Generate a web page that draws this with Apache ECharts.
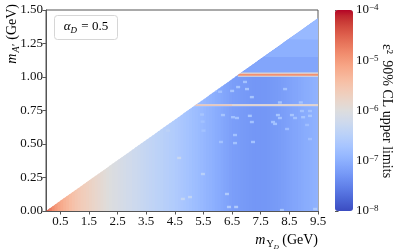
<!DOCTYPE html>
<html><head><meta charset="utf-8">
<script src="https://cdn.jsdelivr.net/npm/echarts@6/dist/echarts.min.js"></script>
<style>html,body{margin:0;padding:0;background:#fff}#c{width:399px;height:250px}</style>
</head><body><div id="c"></div>
<script>
// ---------------- data ----------------
const xTickValues = [0.5, 1.5, 2.5, 3.5, 4.5, 5.5, 6.5, 7.5, 8.5, 9.5];
const yTickValues = [0, 0.25, 0.5, 0.75, 1.0, 1.25, 1.5];
const colorbarExponents = [-8, -7, -6, -5, -4];
const boundarySlope = 0.1514;        // kinematic edge: max m_A' per GeV of m_Upsilon
const colWidth = 0.1;                // GeV per column bin
// log10(eps^2 upper limit) per m_Upsilon column (bins of 0.1 GeV starting at 0)
const colLogLimit = [
  -4.50,-4.72,-4.88,-5.00,-5.10,-5.18,-5.26,-5.33,-5.40,-5.46,
  -5.52,-5.57,-5.62,-5.66,-5.70,-5.74,-5.78,-5.82,-5.86,-5.90,
  -5.94,-5.98,-6.01,-6.04,-6.07,-6.10,-6.12,-6.15,-6.18,-6.20,
  -6.23,-6.25,-6.28,-6.31,-6.34,-6.36,-6.39,-6.41,-6.44,-6.46,
  -6.48,-6.51,-6.53,-6.56,-6.58,-6.61,-6.64,-6.67,-6.70,-6.73,
  -6.76,-6.79,-6.82,-6.85,-6.88,-6.91,-6.94,-6.97,-7.00,-7.03,
  -7.06,-7.09,-7.12,-7.15,-7.18,-7.20,-7.22,-7.23,-7.24,-7.25,
  -7.26,-7.27,-7.28,-7.28,-7.28,-7.28,-7.28,-7.27,-7.26,-7.25,
  -7.24,-7.23,-7.21,-7.19,-7.17,-7.15,-7.13,-7.11,-7.09,-7.07,
  -7.05,-7.03,-7.01,-6.99,-6.97
];
// [mUps0, mUps1, mA0, mA1, log10 limit]
const upperBands = [
  [6.8, 9.5, 1.035, 1.15, -7.12],
  [6.8, 9.5, 1.15, 1.28, -7.00],
  [6.8, 9.5, 1.28, 1.50, -6.88]
];
const lineHalos = [
  [6.7, 9.5, 1.002, 1.034, -6.0],
  [5.1, 9.5, 0.781, 0.799, -6.35]
];
const lineCores = [
  [6.7, 9.5, 1.010, 1.025, -4.90],
  [5.1, 6.5, 0.786, 0.794, -5.45],
  [6.5, 9.5, 0.786, 0.794, -5.70]
];
// [mUps, mA, log10 limit]
const speckles = [
  [4.26,0.600,-6.45],[5.45,0.720,-6.70],[5.47,0.667,-6.75],[5.50,0.600,-6.75],
  [6.18,0.716,-6.70],[6.11,0.515,-6.75],[4.65,0.396,-6.30],[5.48,0.276,-6.50],
  [4.78,0.090,-6.35],[5.03,0.104,-6.40],[6.32,0.127,-6.60],[6.39,0.030,-6.60],
  [6.64,0.030,-6.60],[8.24,0.007,-6.70],[9.40,0.015,-6.60],[6.08,0.890,-6.75],
  [5.90,0.900,-6.70],[6.50,0.896,-6.70],[6.71,0.925,-6.70],[6.95,0.963,-6.75],
  [7.02,0.910,-6.70],[7.19,0.850,-6.70],[8.35,0.910,-6.75],[8.17,0.810,-6.70],
  [8.90,0.810,-6.70],[6.53,0.700,-6.75],[7.12,0.710,-6.70],[8.10,0.716,-6.70],
  [8.17,0.694,-6.75],[8.59,0.716,-6.70],[8.70,0.694,-6.75],[8.98,0.700,-6.70],
  [9.22,0.710,-6.70],[8.94,0.746,-6.75],[9.22,0.746,-6.75],[7.93,0.664,-6.75],
  [8.00,0.650,-6.75],[7.19,0.664,-6.75],[6.67,0.694,-6.75],[6.60,0.567,-6.75],
  [6.60,0.507,-6.75],[7.23,0.515,-6.75],[8.42,0.612,-6.80],[9.12,0.642,-6.80],
  [9.22,0.537,-6.80]
];
// coolwarm colormap stops
const coolwarm = ['#3b4cc0','#445acc','#4d68d7','#5775e1','#6282ea','#6c8ef1','#779af7','#82a5fb','#8db0fe','#98b9ff','#a3c2ff','#aec9fd','#b8d0f9','#c2d5f4','#ccd9ee','#d5dbe6','#dddddd','#e5d8d1','#ecd3c5','#f1ccb9','#f5c4ad','#f7bba0','#f7b194','#f7a687','#f49a7b','#f18d6f','#ec7f63','#e57058','#de604d','#d55042','#cb3e38','#c0282f','#b40426'];

// ---------------- build ----------------
const FONT = 'Liberation Serif';
const X_MAX = 9.5;
const colData = colLogLimit.map((v, i) => [i * colWidth, (i + 1) * colWidth, 0, 1.5, v]);
const SPW = 0.07, SPH = 0.009;
const speckleData = speckles.map(s => [s[0] - SPW, s[0] + SPW, s[1] - SPH, s[1] + SPH, s[2]]);

function clipToTriangle(poly) {
  const out = [];
  for (let i = 0; i < poly.length; i++) {
    const a = poly[i], b = poly[(i + 1) % poly.length];
    const fa = boundarySlope * a[0] - a[1], fb = boundarySlope * b[0] - b[1];
    if (fa >= 0) out.push(a);
    if ((fa >= 0) !== (fb >= 0)) {
      const t = fa / (fa - fb);
      out.push([a[0] + t * (b[0] - a[0]), a[1] + t * (b[1] - a[1])]);
    }
  }
  return out;
}
// overlap: extend each cell slightly to the right so neighbours leave no seam
function makeRender(overlap) {
  return function (params, api) {
    const x0 = api.value(0), y0 = api.value(2), y1 = api.value(3);
    const x1 = Math.min(X_MAX, api.value(1) + overlap);
    const poly = clipToTriangle([[x0, y0], [x1, y0], [x1, y1], [x0, y1]]);
    if (poly.length < 3) return null;
    const c = api.visual('color');
    return {
      type: 'polygon',
      shape: { points: poly.map(p => api.coord(p)) },
      style: { fill: c }
    };
  };
}
function cellSeries(data, overlap) {
  return {
    type: 'custom', xAxisIndex: 0, yAxisIndex: 0, silent: true,
    dimensions: ['x0', 'x1', 'y0', 'y1', 'v'],
    encode: { x: [0, 1], y: [2, 3] },
    renderItem: makeRender(overlap), data: data, clip: true
  };
}
const txt = { fontFamily: FONT, fontSize: 13, color: '#111' };
const axisLineStyle = { color: '#555', width: 1 };

const chart = echarts.init(document.getElementById('c'), null, { renderer: 'canvas' });
chart.setOption({
  animation: false,
  backgroundColor: '#fff',
  grid: [
    { left: 46, top: 10, width: 272, height: 201, show: true, borderColor: '#555', borderWidth: 1, containLabel: false, outerBoundsMode: 'none' },
    { left: 335, top: 10, width: 18, height: 201, show: false, containLabel: false, outerBoundsMode: 'none' }
  ],
  xAxis: [
    { gridIndex: 0, type: 'value', min: 0, max: 9.5,
      axisLine: { show: true, lineStyle: axisLineStyle },
      axisTick: { show: true, length: 3.5, lineStyle: axisLineStyle, customValues: xTickValues },
      axisLabel: Object.assign({ margin: 4, customValues: xTickValues, formatter: v => v.toFixed(1) }, txt),
      splitLine: { show: false } },
    { gridIndex: 1, type: 'value', min: 0, max: 1, show: false }
  ],
  yAxis: [
    { gridIndex: 0, type: 'value', min: 0, max: 1.5, interval: 0.25,
      axisLine: { show: true, lineStyle: axisLineStyle },
      axisTick: { show: true, length: 3.5, lineStyle: axisLineStyle },
      axisLabel: Object.assign({ margin: 3, formatter: v => v.toFixed(2) }, txt),
      splitLine: { show: false } },
    { gridIndex: 1, type: 'value', min: -8, max: -4, interval: 1, position: 'right',
      axisLine: { show: false },
      axisTick: { show: true, length: 3.5, lineStyle: axisLineStyle },
      axisLabel: { margin: 3, formatter: v => '{b|10}{s|\u2212' + (-v) + '}',
        rich: {
          b: { fontFamily: FONT, fontSize: 13, color: '#111', lineHeight: 13, verticalAlign: 'bottom' },
          s: { fontFamily: FONT, fontSize: 9, color: '#111', lineHeight: 9, verticalAlign: 'top', padding: [0, 0, 8, 0] }
        } },
      splitLine: { show: false } }
  ],
  visualMap: {
    type: 'continuous', min: -8, max: -4, dimension: 4, seriesIndex: [0, 1, 2, 3, 4],
    left: 335, top: 10, itemWidth: 18, itemHeight: 201, padding: 0,
    calculable: false, showLabel: false, text: null, hoverLink: false,
    inRange: { color: coolwarm }
  },
  series: [
    cellSeries(colData, 0.05),
    cellSeries(upperBands, 0),
    cellSeries(lineHalos, 0),
    cellSeries(lineCores, 0),
    cellSeries(speckleData, 0)
  ],
  graphic: [
    { type: 'rect', left: 54, top: 15, shape: { width: 63, height: 24, r: 3 },
      style: { fill: '#fff', stroke: '#d6d6d6', lineWidth: 1 } },
    { type: 'text', x: 86, y: 27,
      style: { text: '{i|\u03b1}{d|D}{r| = 0.5}', align: 'center', verticalAlign: 'middle',
        rich: {
          i: { fontFamily: FONT, fontStyle: 'italic', fontSize: 13, color: '#111', verticalAlign: 'top', lineHeight: 13 },
          d: { fontFamily: FONT, fontStyle: 'italic', fontSize: 9, color: '#111', verticalAlign: 'top', lineHeight: 9, padding: [6, 1, 0, 0] },
          r: { fontFamily: FONT, fontSize: 13, color: '#111', verticalAlign: 'top', lineHeight: 13 }
        } } },
    { type: 'text', x: 318, y: 233,
      style: { text: '{i|m}{u|\u03a5}{d|D}{r| (GeV)}', align: 'right', verticalAlign: 'top',
        rich: {
          i: { fontFamily: FONT, fontStyle: 'italic', fontSize: 14, color: '#111', verticalAlign: 'top', lineHeight: 14 },
          u: { fontFamily: FONT, fontSize: 10, color: '#111', verticalAlign: 'top', lineHeight: 10, padding: [6, 0, 0, 1] },
          d: { fontFamily: FONT, fontStyle: 'italic', fontSize: 7, color: '#111', verticalAlign: 'top', lineHeight: 7, padding: [11, 0, 0, 0] },
          r: { fontFamily: FONT, fontSize: 14, color: '#111', verticalAlign: 'top', lineHeight: 14 }
        } } },
    { type: 'text', x: 5, y: 4, rotation: Math.PI / 2,
      style: { text: '{i|m}{d|A\u2032}{r| (GeV)}', align: 'right', verticalAlign: 'top',
        rich: {
          i: { fontFamily: FONT, fontStyle: 'italic', fontSize: 14, color: '#111', verticalAlign: 'top', lineHeight: 14 },
          d: { fontFamily: FONT, fontStyle: 'italic', fontSize: 10, color: '#111', verticalAlign: 'top', lineHeight: 10, padding: [6, 1, 0, 1] },
          r: { fontFamily: FONT, fontSize: 14, color: '#111', verticalAlign: 'top', lineHeight: 14 }
        } } },
    { type: 'text', x: 387, y: 111, rotation: -Math.PI / 2,
      style: { text: '\u03b5\u00b2\u2009 90% CL upper limits', align: 'center', verticalAlign: 'middle',
        fontFamily: FONT, fontSize: 14, fill: '#111' } }
  ]
});
</script>
</body></html>
